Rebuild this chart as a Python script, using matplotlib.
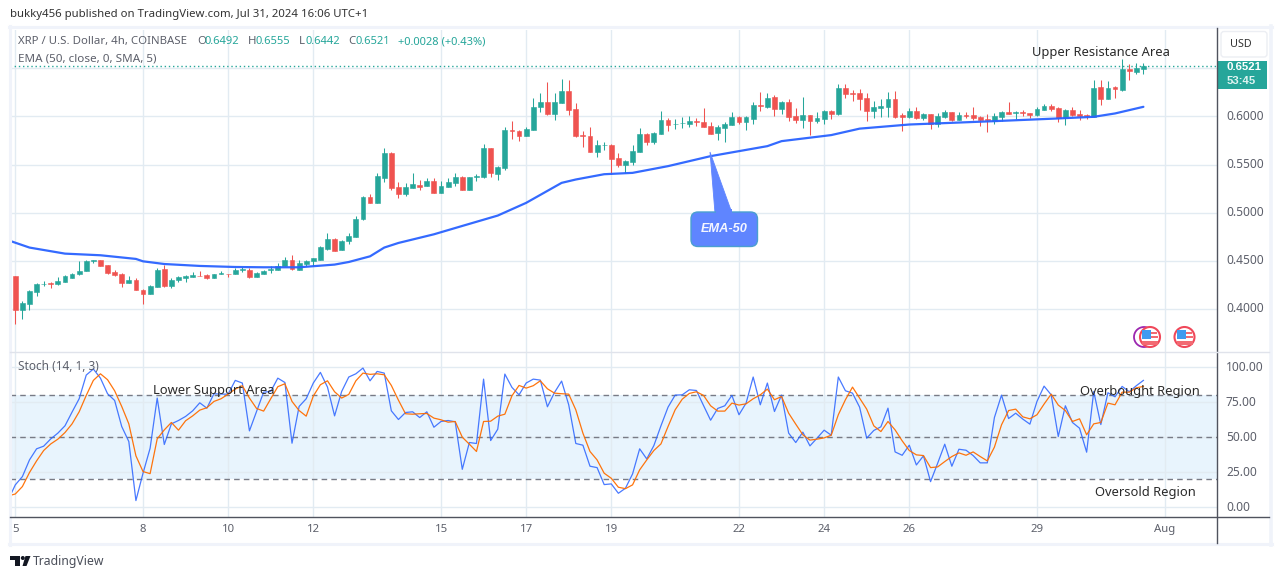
import numpy as np
import matplotlib
matplotlib.use("Agg")
import matplotlib.pyplot as plt
from matplotlib.patches import FancyBboxPatch, Polygon, Circle, Rectangle

W, H = 1281, 579

# bars start at index -1 (cut off at the left edge), index 0 sits on the "5" tick
opens = [.4424,
    .4340, .3983, .4045, .4170, .4254, .4264, .4254, .4274, .4323, .4358,
    .4392, .4497, .4504, .4452, .4379, .4361, .4267, .4302, .4198, .4153,
    .4226, .4413, .4233, .4295, .4323, .4333, .4344, .4351, .4320, .4361,
    .4365, .4361, .4403, .4406, .4330, .4361, .4399, .4403, .4445, .4504,
    .4403, .4462, .4500, .4511, .4622, .4722, .4608, .4705, .4743, .4931,
    .5160, .5097, .5361, .5618, .5264, .5191, .5254, .5292, .5274, .5327,
    .5202, .5264, .5306, .5368, .5233, .5368, .5368, .5670, .5400, .5462,
    .5858, .5847, .5795, .5858, .6097, .6149, .6024, .6139, .6264, .6077,
    .5802, .5795, .5629, .5698, .5702, .5566, .5493, .5524, .5629, .5816,
    .5733, .5816, .5962, .5917, .5927, .5920, .5952, .5941, .5900, .5827,
    .5879, .5910, .5993, .5941, .5972, .6118, .6097, .6202, .6077, .6149,
    .6004, .5962, .6014, .5952, .5972, .6056, .6024, .6295, .6240, .6243,
    .6191, .6055, .6090, .6097, .6180, .6014, .5993, .6055, .5982, .6024,
    .5920, .5993, .6045, .5961, .6014, .6014, .5989, .5972, .5951, .5993,
    .6045, .6034, .6045, .6034, .6014, .6069, .6107, .6087, .5982, .6066,
    .6024, .6014, .5993, .6305, .6180, .6305, .6274, .6493, .6462, .6492]
closes = [.4330,
    .3983, .4059, .4181, .4254, .4261, .4257, .4285, .4337, .4365, .4389,
    .4497, .4504, .4445, .4368, .4347, .4264, .4302, .4195, .4153, .4233,
    .4399, .4233, .4302, .4326, .4337, .4351, .4337, .4316, .4365, .4368,
    .4358, .4406, .4413, .4326, .4368, .4396, .4413, .4448, .4504, .4413,
    .4479, .4497, .4524, .4639, .4722, .4604, .4708, .4754, .4931, .5160,
    .5097, .5379, .5615, .5254, .5191, .5264, .5295, .5264, .5326, .5202,
    .5275, .5316, .5368, .5233, .5368, .5382, .5670, .5410, .5472, .5858,
    .5851, .5795, .5868, .6097, .6149, .6024, .6149, .6264, .6066, .5795,
    .5795, .5629, .5702, .5702, .5556, .5493, .5535, .5639, .5816, .5733,
    .5827, .5962, .5910, .5924, .5934, .5952, .5941, .5889, .5816, .5889,
    .5920, .5993, .5941, .5993, .6118, .6111, .6191, .6077, .6149, .5993,
    .5962, .6014, .5952, .5983, .6056, .6024, .6295, .6233, .6233, .6181,
    .6055, .6097, .6107, .6180, .5993, .5993, .6055, .5982, .6024, .5920,
    .6003, .6045, .5961, .6014, .6003, .5982, .5961, .5965, .6003, .6045,
    .6027, .6045, .6038, .6017, .6076, .6107, .6076, .5982, .6066, .6014,
    .6003, .6003, .6295, .6180, .6295, .6284, .6493, .6472, .6503, .6521]
highs = [.4424,
    .4340, .4076, .4191, .4268, .4288, .4274, .4330, .4354, .4375, .4493,
    .4504, .4504, .4504, .4452, .4399, .4368, .4337, .4323, .4205, .4243,
    .4420, .4452, .4323, .4340, .4347, .4382, .4389, .4365, .4365, .4389,
    .4365, .4427, .4434, .4427, .4379, .4399, .4441, .4472, .4535, .4556,
    .4511, .4504, .4531, .4649, .4785, .4733, .4719, .4785, .4962, .5170,
    .5191, .5410, .5670, .5625, .5323, .5306, .5410, .5337, .5358, .5358,
    .5327, .5358, .5410, .5379, .5368, .5400, .5712, .5670, .5483, .5889,
    .5952, .5858, .5889, .6191, .6243, .6358, .6243, .6389, .6379, .6139,
    .5847, .5889, .5754, .5733, .5712, .5618, .5545, .5702, .5879, .5827,
    .5837, .6056, .5983, .5972, .5993, .6004, .5983, .6087, .5941, .5910,
    .5941, .6045, .6004, .6004, .6149, .6254, .6243, .6222, .6160, .6181,
    .6087, .6202, .6014, .6045, .6066, .6066, .6337, .6337, .6275, .6285,
    .6243, .6159, .6180, .6253, .6264, .6034, .6087, .6097, .6034, .6024,
    .6034, .6066, .6045, .6045, .6045, .6097, .6003, .6024, .6034, .6055,
    .6149, .6055, .6066, .6034, .6097, .6128, .6128, .6097, .6076, .6097,
    .6066, .6024, .6378, .6378, .6368, .6316, .6597, .6545, .6555, .6555]
lows = [.4330,
    .3837, .3896, .3983, .4129, .4233, .4212, .4247, .4274, .4316, .4347,
    .4392, .4476, .4445, .4358, .4337, .4226, .4267, .4195, .4045, .4153,
    .4226, .4226, .4215, .4274, .4274, .4330, .4337, .4309, .4316, .4361,
    .4326, .4361, .4382, .4316, .4330, .4361, .4375, .4399, .4441, .4403,
    .4403, .4448, .4448, .4504, .4615, .4597, .4608, .4670, .4743, .4920,
    .5097, .5097, .5316, .5233, .5149, .5170, .5254, .5233, .5274, .5202,
    .5202, .5264, .5275, .5233, .5233, .5327, .5358, .5368, .5337, .5441,
    .5764, .5743, .5795, .5858, .6045, .6014, .5962, .6139, .6014, .5785,
    .5681, .5629, .5577, .5650, .5400, .5472, .5410, .5493, .5629, .5702,
    .5712, .5816, .5847, .5868, .5879, .5889, .5900, .5889, .5816, .5754,
    .5733, .5910, .5920, .5858, .5920, .6056, .6087, .6004, .6024, .5952,
    .5931, .5879, .5806, .5931, .5920, .5972, .6014, .6191, .6160, .6066,
    .5951, .5982, .5993, .5993, .5982, .5847, .5982, .5972, .5961, .5868,
    .5889, .5982, .5951, .5961, .5982, .5961, .5899, .5837, .5920, .5951,
    .6024, .5972, .6003, .5982, .6003, .6066, .6055, .5941, .5909, .6003,
    .5961, .5972, .5993, .6118, .6180, .6191, .6264, .6378, .6441, .6442]

ema_bars = [-1, 2, 7, 12, 17, 18, 21, 26, 31, 35, 40, 45, 47, 50, 52, 54, 59, 63, 68, 72,
            77, 79, 83, 87, 92, 98, 106, 108, 115, 119, 126, 138, 147, 152, 155, 159]
ema_vals = [.4712, .4636, .4573, .4556, .4518, .4493, .4465, .4445, .4434, .4431, .4431, .4459,
            .4486, .4545, .4636, .4684, .4774, .4861, .4969, .5101, .5309, .5344, .5399, .5413,
            .5483, .5587, .5691, .5743, .5806, .5873, .5916, .5951, .5979, .5996, .6031, .6100]

stoch_k = [5.3,
    16.0, 21.9, 33.8, 41.7, 43.6, 48.8, 52.9, 58.1, 67.9, 77.4,
    94.3, 98.6, 92.1, 81.0, 76.2, 57.6, 46.9, 4.8, 24.3, 42.1,
    77.9, 44.8, 59.5, 61.9, 64.8, 68.8, 74.5, 70.7, 81.0, 80.7,
    80.7, 90.5, 88.6, 54.5, 68.3, 82.1, 82.6, 92.1, 89.0, 45.7,
    71.9, 77.4, 88.6, 96.2, 85.7, 65.2, 82.6, 92.9, 95.2, 99.3,
    90.2, 96.9, 95.7, 68.8, 62.6, 67.6, 68.1, 64.0, 68.1, 57.1,
    61.2, 61.9, 61.0, 27.1, 46.2, 45.5, 91.4, 47.6, 55.7, 95.0,
    85.5, 80.2, 88.6, 91.4, 90.7, 71.7, 81.9, 90.0, 73.1, 45.5,
    44.3, 29.3, 28.3, 16.2, 16.7, 10.0, 13.6, 23.8, 41.7, 34.5,
    44.0, 58.1, 71.4, 80.0, 80.2, 83.8, 83.3, 72.6, 62.1, 70.5,
    72.4, 79.8, 66.0, 74.3, 92.9, 73.1, 88.6, 68.3, 80.0, 52.9,
    46.2, 53.6, 43.8, 49.3, 55.0, 51.4, 92.9, 83.1, 81.4, 71.4,
    49.3, 54.8, 57.4, 70.7, 39.5, 37.1, 44.3, 30.2, 36.7, 18.3,
    31.4, 45.0, 29.3, 41.4, 40.7, 36.9, 31.7, 31.7, 64.0, 80.0,
    63.3, 67.1, 62.9, 59.3, 75.5, 86.4, 80.2, 50.5, 72.4, 60.5,
    56.4, 39.3, 82.6, 59.0, 81.7, 78.8, 86.2, 82.4, 86.7, 90.5]
stoch_d = [8.1,
    9.5, 14.8, 24.8, 33.1, 40.5, 45.2, 48.6, 53.3, 59.5, 68.1,
    79.8, 90.5, 95.2, 91.0, 83.1, 71.9, 59.5, 36.7, 25.5, 24.0,
    48.8, 55.2, 60.5, 55.0, 61.7, 65.2, 69.3, 71.0, 75.5, 77.4,
    80.7, 84.3, 86.7, 77.9, 70.5, 68.6, 77.4, 86.0, 88.1, 75.5,
    69.0, 65.0, 79.3, 87.4, 90.2, 82.4, 77.9, 80.5, 90.2, 95.7,
    94.8, 95.2, 94.5, 86.9, 76.4, 66.7, 66.4, 66.7, 66.9, 63.6,
    62.4, 60.7, 61.2, 50.0, 45.0, 39.8, 61.2, 61.4, 65.0, 66.4,
    79.5, 86.9, 85.0, 86.7, 90.2, 84.5, 81.4, 81.0, 80.7, 69.5,
    52.9, 39.8, 33.8, 24.3, 20.7, 14.3, 13.3, 16.0, 26.7, 33.8,
    40.5, 45.2, 57.6, 69.5, 77.1, 81.2, 82.4, 79.8, 72.4, 68.6,
    68.6, 74.3, 72.9, 73.8, 77.4, 80.2, 84.3, 76.7, 79.0, 67.1,
    59.3, 51.7, 47.9, 48.6, 49.5, 51.4, 66.0, 76.7, 85.7, 77.9,
    70.0, 58.1, 54.0, 61.2, 55.2, 47.4, 40.5, 37.4, 36.9, 28.3,
    28.8, 32.6, 36.2, 38.8, 37.1, 39.5, 36.2, 33.1, 42.9, 58.8,
    69.0, 70.0, 64.5, 63.1, 66.0, 73.6, 80.7, 72.9, 69.0, 61.2,
    63.1, 51.7, 59.5, 60.5, 74.3, 73.1, 82.1, 82.1, 85.2, 86.2]

date_bars = [0, 18, 30, 42, 60, 72, 84, 102, 114, 126, 144, 162]
date_labels = ["5", "8", "10", "12", "15", "17", "19", "22", "24", "26", "29", "Aug"]
price_ticks = [0.40, 0.45, 0.50, 0.55, 0.60, 0.65]
stoch_ticks = [0, 25, 50, 75, 100]
stoch_levels = [20, 50, 80]
last_price = 0.6521

UP = "#26a69a"
DOWN = "#ef5350"
GRID = "#e2ebf2"
TXT = "#5d606b"
DARK = "#50535e"
BORDER = "#f0f3fa"
plt.rcParams["font.family"] = ["Noto Sans", "DejaVu Sans"]


def panel(left, top, right, bottom):
    a = fig.add_axes([left / W, 1 - bottom / H, (right - left) / W, (bottom - top) / H])
    a.set_xticks([])
    a.set_yticks([])
    a.patch.set_alpha(0)
    for s in a.spines.values():
        s.set_visible(False)
    return a


fig = plt.figure(figsize=(W / 100, H / 100), dpi=100, facecolor="white")

L, R = 10, 1217
bar_px, x0 = 7.095, 15.3
xlim = ((L - x0) / bar_px, (R - x0) / bar_px)

ax = panel(L, 30, R, 351.5)
ax.set_xlim(*xlim)
ax.set_ylim(0.3555, 0.6899)

bars = np.arange(-1, len(closes) - 1)
o, c, h, l = map(np.array, (opens, closes, highs, lows))
colors = [UP if b >= a else DOWN for a, b in zip(o, c)]

for d in date_bars:
    ax.axvline(d, color=GRID, lw=1, zorder=1)
for p in price_ticks:
    ax.axhline(p, color=GRID, lw=1, zorder=1)

ax.vlines(bars, l, h, colors=colors, lw=0.75, zorder=3)
ax.bar(bars, np.abs(c - o), bottom=np.minimum(o, c), width=0.68, color=colors,
       edgecolor=colors, linewidth=0.4, zorder=3)
ax.plot(ema_bars, ema_vals, color="#2962ff", lw=1.6, alpha=0.95, zorder=4, solid_capstyle="round")
ax.axhline(last_price, color=UP, lw=1, ls=(0, (1, 2)), zorder=2)

st = panel(L, 351.5, R, 516.7)
st.set_xlim(*xlim)
st.set_ylim(-6.7, 111.1)

st.axhspan(stoch_levels[0], stoch_levels[2], color="#2196f3", alpha=0.1, lw=0, zorder=1)
for d in date_bars:
    st.axvline(d, color=GRID, lw=1, zorder=2)
for t in stoch_ticks:
    st.axhline(t, color=GRID, lw=1, zorder=2)
for lv in stoch_levels:
    st.axhline(lv, color="#787b86", lw=1, ls=(0, (4, 3)), zorder=3)
st.plot(bars, stoch_k, color="#2962ff", lw=0.9, alpha=0.85, zorder=4)
st.plot(bars, stoch_d, color="#ff6d00", lw=0.9, alpha=0.95, zorder=5)

# frame and notes, in pixels
pg = panel(0, 0, W, H)
pg.set_xlim(0, W)
pg.set_ylim(H, 0)
pg.plot([9.5, 9.5], [26, 545], color=BORDER, lw=2.2)
pg.plot([9, 1272], [27, 27], color=BORDER, lw=2.2)
pg.plot([1270.5, 1270.5], [26, 545], color=BORDER, lw=2.6)
pg.plot([9, 1272], [544, 544], color=BORDER, lw=2.2)
pg.plot([R, R], [28, 543], color=DARK, lw=1)
pg.plot([L, 1269], [516.7, 516.7], color=DARK, lw=1)
pg.plot([L, 1269], [351.5, 351.5], color="#e0e3eb", lw=1)


def px_x(b):
    return x0 + bar_px * b


def stoch_y(v):
    return 507.3 - v * 1.4


def price_y(v):
    return 116.3 + (0.60 - v) * 960


for d, lab in zip(date_bars, date_labels):
    pg.text(px_x(d), 529.5, lab, ha="center", va="center", fontsize=8.2, color=TXT)
for p in price_ticks[:-1]:
    pg.text(1226, price_y(p), f"{p:.4f}", ha="left", va="center", fontsize=8.6, color=TXT)
for t in stoch_ticks:
    pg.text(1226, stoch_y(t), f"{t:.2f}", ha="left", va="center", fontsize=8.6, color=TXT)

# header and legends
pg.text(10, 14, "bukky456 published on TradingView.com, Jul 31, 2024 16:06 UTC+1",
        fontsize=8.2, color="#333333", va="center")
pg.text(18, 41.5, "XRP / U.S. Dollar, 4h, COINBASE", fontsize=8.2, color=TXT, va="center")
for x, name, val in [(197, "O", "0.6492"), (248, "H", "0.6555"), (299, "L", "0.6442"), (348, "C", "0.6521")]:
    pg.text(x, 41.5, name, fontsize=8.2, color=TXT, va="center")
    pg.text(x + (6 if name == "L" else 7.5), 41.5, val, fontsize=8.0, color=UP, va="center")
pg.text(398, 41.5, "+0.0028 (+0.43%)", fontsize=8.0, color=UP, va="center")
pg.text(18, 59, "EMA (50, close, 0, SMA, 5)", fontsize=8.4, color=TXT, va="center")
pg.text(18, 367, "Stoch (14, 1, 3)", fontsize=8.5, color=TXT, va="center")

# currency button and last price tag
pg.add_patch(FancyBboxPatch((1221, 31.5), 46, 25.5, boxstyle="round,pad=0,rounding_size=3",
                            fc="white", ec="#eceef3", lw=1))
pg.text(1241, 44.5, "USD", ha="center", va="center", fontsize=7.8, color="#333333")
pg.add_patch(Rectangle((1218, 61), 49, 27.5, fc=UP, lw=0))
pg.text(1226.5, 66.8, "0.6521", fontsize=8.2, family="Liberation Sans", fontweight="bold",
        color="white", va="center")
pg.text(1226.5, 81, "53:45", fontsize=8.2, family="Liberation Sans", fontweight="bold",
        color="#dff4f1", va="center")

# EMA-50 callout
callout = "#5f85ff"
pg.add_patch(Polygon([[710, 152], [715, 213], [732, 213]], closed=True, fc=callout, ec=callout, lw=0.6))
pg.add_patch(FancyBboxPatch((691, 212), 66.5, 34.5, boxstyle="round,pad=0,rounding_size=7",
                            fc=callout, ec="#4a9fd0", lw=1))
pg.add_patch(Rectangle((715.5, 209), 16, 5, fc=callout, lw=0))
pg.text(724.5, 229, "EMA-50", ha="center", va="center", fontsize=9.2, family="Liberation Sans",
        style="italic", fontweight="bold", color="#f4f6ff")

# hand notes
notes = [(1101, 52.5, "Upper Resistance Area"), (213.5, 390.5, "Lower Support Area"),
         (1140, 391.5, "Overbought Region"), (1145, 492.5, "Oversold Region")]
for x, y, s in notes:
    pg.text(x, y, s, ha="center", va="center", fontsize=9.3, color="#2a2a2a")

# economic event flags
pg.add_patch(Circle((1144, 337), 10, fc="white", ec="#9c27b0", lw=1.3))
for cx in (1150, 1184.5):
    pg.add_patch(Circle((cx, 337), 10, fc="white", ec="#f0485a", lw=1.5))
    pg.add_patch(Rectangle((cx - 8, 341), 16, 3.6, fc="#f26a72", lw=0))
    pg.add_patch(Rectangle((cx + 0.5, 331.5), 6.5, 2.2, fc="#f26a72", lw=0))
    pg.add_patch(Rectangle((cx + 0.5, 336), 7.5, 2.4, fc="#f26a72", lw=0))
    pg.add_patch(Rectangle((cx - 8, 329.5), 9, 9.5, fc="#3f9bf0", lw=0))

# footer logo
pg.add_patch(Polygon([[10, 556], [20, 556], [20, 566], [14.5, 566], [14.5, 560], [10, 560]], fc="#131722", lw=0))
pg.add_patch(Circle((22.8, 558), 2, fc="#131722", lw=0))
pg.add_patch(Polygon([[25.5, 556], [30.5, 556], [26.5, 566], [22.5, 566]], fc="#131722", lw=0))
pg.text(33, 561.5, "TradingView", fontsize=8.8, color="#4a4e59", va="center")

fig.savefig("out.png", dpi=100)
